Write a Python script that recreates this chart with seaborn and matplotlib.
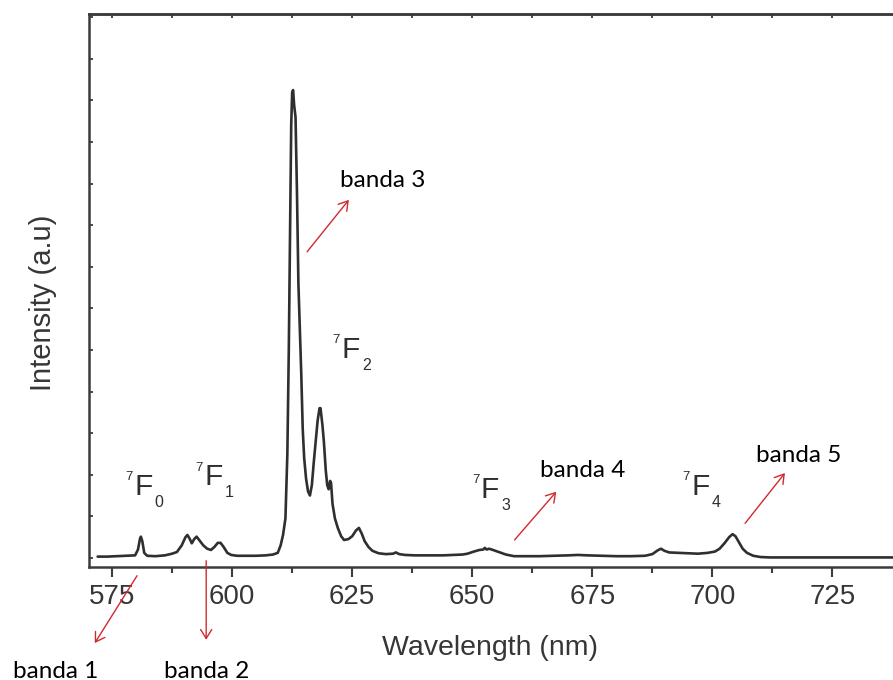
import numpy as np
import pandas as pd
import matplotlib
matplotlib.use('Agg')
import matplotlib.pyplot as plt
import seaborn as sns

# spectrum (wavelength nm, intensity a.u.)
wavelength = [
    572.0, 574.0, 576.0, 578.0, 579.8, 580.4, 580.8, 581.0, 581.3, 581.7,
    582.3, 584.0, 586.0, 587.5, 588.5, 589.5, 590.3, 590.7, 591.2, 591.6,
    592.1, 592.6, 593.2, 594.0, 594.8, 595.6, 596.3, 597.0, 597.6, 598.3,
    599.0, 599.8, 601.0, 603.0, 605.0, 607.0, 608.5, 609.5, 610.1, 610.6,
    611.1, 611.5, 611.8, 612.0, 612.3, 612.5, 612.7, 612.9, 613.2, 613.5,
    613.8, 614.1, 614.4, 614.7, 615.0, 615.4, 615.8, 616.2, 616.6, 617.0,
    617.4, 617.8, 618.2, 618.4, 618.8, 619.1, 619.5, 619.8, 620.1, 620.4,
    620.6, 620.9, 621.4, 622.0, 622.7, 623.3, 624.2, 625.0, 625.8, 626.4,
    627.0, 627.6, 628.4, 629.2, 630.5, 632.0, 633.5, 634.1, 634.8, 636.0,
    638.0, 640.0, 642.0, 644.0, 646.0, 648.0, 649.0, 650.3, 651.5, 652.3,
    652.6, 653.0, 653.5, 654.3, 655.5, 657.0, 658.7, 661.0, 664.0, 667.0,
    670.0, 672.0, 674.0, 677.0, 680.0, 683.0, 686.0, 687.5, 688.6, 689.3,
    690.0, 691.0, 693.0, 695.0, 697.0, 699.0, 700.5, 701.5, 702.5, 703.5,
    704.2, 704.8, 705.5, 706.3, 707.2, 708.5, 710.0, 712.0, 715.0, 720.0,
    725.0, 730.0, 735.0, 738.5,
]
intensity = [
    0.03, 0.03, 0.04, 0.05, 0.06, 0.20, 0.45, 0.51, 0.40, 0.12,
    0.05, 0.04, 0.06, 0.10, 0.14, 0.30, 0.50, 0.55, 0.45, 0.35,
    0.45, 0.51, 0.42, 0.30, 0.22, 0.19, 0.26, 0.36, 0.36, 0.25,
    0.12, 0.07, 0.05, 0.05, 0.05, 0.06, 0.08, 0.12, 0.30, 0.55,
    0.95, 2.50, 5.00, 7.20, 10.4, 11.2, 11.25, 10.9, 10.6, 8.80,
    6.60, 5.50, 4.40, 3.10, 2.40, 1.90, 1.60, 1.50, 1.75, 2.30,
    2.80, 3.30, 3.60, 3.60, 3.20, 2.80, 2.10, 1.75, 1.65, 1.85,
    1.80, 1.30, 0.95, 0.72, 0.52, 0.43, 0.45, 0.52, 0.66, 0.72,
    0.58, 0.40, 0.26, 0.17, 0.11, 0.09, 0.10, 0.13, 0.09, 0.07,
    0.06, 0.06, 0.06, 0.06, 0.07, 0.08, 0.10, 0.15, 0.19, 0.20,
    0.24, 0.20, 0.22, 0.19, 0.14, 0.08, 0.04, 0.04, 0.04, 0.05,
    0.06, 0.07, 0.06, 0.05, 0.04, 0.04, 0.05, 0.09, 0.18, 0.22,
    0.17, 0.13, 0.12, 0.11, 0.10, 0.12, 0.15, 0.22, 0.35, 0.50,
    0.57, 0.52, 0.38, 0.22, 0.12, 0.05, 0.02, 0.01, 0.01, 0.01,
    0.01, 0.01, 0.01, 0.01,
]

# transition labels 7F_J
level_subs = ['0', '1', '2', '3', '4']
level_x = [579.7, 594.2, 622.8, 651.8, 695.7]
level_y = [1.51, 1.75, 4.81, 1.44, 1.51]

# band annotations (arrow tail, arrow head, text)
band_names = ['banda 1', 'banda 2', 'banda 3', 'banda 4', 'banda 5']
tail_xy = [(580.2, -0.43), (594.6, -0.07), (615.6, 7.36), (658.8, 0.43), (706.8, 0.83)]
head_xy = [(571.4, -2.05), (594.6, -1.97), (624.3, 8.61), (667.5, 1.59), (715.1, 2.04)]
text_xy = [(563.2, -2.88), (594.6, -2.88), (631.4, 8.92), (673.0, 1.95), (717.9, 2.31)]

sns.set_style('ticks')
plt.rcParams['font.family'] = ['Liberation Sans', 'DejaVu Sans']

ink = '#363636'
red = '#d02a30'

df = pd.DataFrame({'wl': wavelength, 'I': intensity})

fig = plt.figure(figsize=(8.93, 6.80), dpi=100)
ax = fig.add_axes([89 / 893, 113 / 680, 804 / 893, 553 / 680])

sns.lineplot(data=df, x='wl', y='I', ax=ax, color='#2f2f2f', lw=1.9,
             sort=False, estimator=None)

ax.set_xlim(570.2, 737.6)
ax.set_ylim(-0.22, 13.08)

# axes frame
for side in ['left', 'bottom', 'top']:
    ax.spines[side].set_linewidth(1.8)
    ax.spines[side].set_color('#3c3c3c')
ax.spines['right'].set_visible(False)

ax.set_xticks(np.arange(575, 737, 25))
ax.set_xticks(np.arange(587.5, 737, 25), minor=True)
ax.set_yticks(np.arange(0, 14, 1))
ax.set_yticklabels([])
ax.tick_params(axis='x', which='major', direction='out', length=7, width=1.5,
               colors='#3c3c3c', labelsize=20, labelcolor=ink, pad=5)
ax.tick_params(axis='x', which='minor', direction='out', length=4, width=1.5,
               colors='#3c3c3c')
ax.tick_params(axis='y', which='major', direction='in', length=3, width=1.3,
               colors='#3c3c3c', right=False)

# inward ticks along the top
top = ax.secondary_xaxis('top')
top.set_xticks(np.arange(575, 737, 12.5))
top.tick_params(direction='in', length=3, width=1.3, colors='#3c3c3c',
                labeltop=False)
top.spines['top'].set_linewidth(1.8)
top.spines['top'].set_color('#3c3c3c')

ax.set_xlabel('Wavelength (nm)', fontsize=20.5, color=ink)
ax.xaxis.set_label_coords(0.499, -0.123)
ax.xaxis.label.set_va('top')
ax.set_ylabel('Intensity (a.u)', fontsize=21, color=ink)
ax.yaxis.set_label_coords(-0.040, 0.477)

# 7F_J labels
for sub, x, y in zip(level_subs, level_x, level_y):
    ax.text(x, y, 'F', fontsize=21.5, color='#2e2e2e', ha='left', va='baseline')
    ax.annotate('7', xy=(x, y), xytext=(-6.5, 10.5), textcoords='offset points',
                fontsize=9.5, color='#2e2e2e', ha='left', va='baseline')
    ax.annotate(sub, xy=(x, y), xytext=(14.5, -8.5), textcoords='offset points',
                fontsize=11.5, color='#2e2e2e', ha='left', va='baseline')

# red arrows and band names
for name, t, h, p in zip(band_names, tail_xy, head_xy, text_xy):
    ax.annotate('', xy=h, xytext=t, annotation_clip=False,
                arrowprops=dict(arrowstyle='->,head_length=0.32,head_width=0.2',
                                color=red, lw=1.0, shrinkA=0, shrinkB=0,
                                mutation_scale=20))
    ax.text(p[0], p[1], name, fontsize=17.5, family=['Lato', 'DejaVu Sans'],
            color='black', ha='center', va='baseline', clip_on=False)

fig.savefig('out.png', dpi=100)
